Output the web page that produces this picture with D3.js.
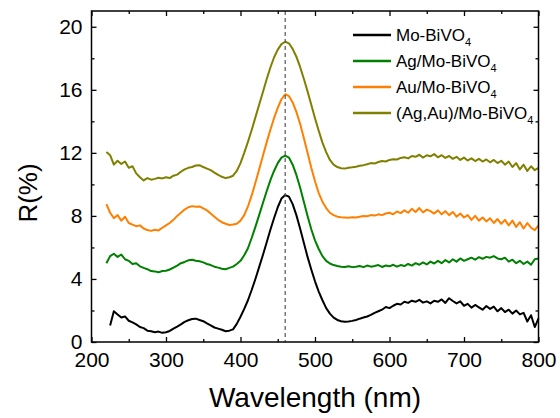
<!DOCTYPE html>
<html>
<head>
<meta charset="utf-8">
<script src="https://cdn.jsdelivr.net/npm/d3@7"></script>
<style>
  body { margin: 0; background: #fff; }
  svg text { font-family: "Liberation Sans", Arial, sans-serif; fill: #000; }
</style>
</head>
<body>
<script>
// wavelength grid (nm)
var wavelengths = [220,225,230,235,240,245,250,255,260,265,270,275,280,285,290,295,300,305,310,315,
  320,325,330,335,340,345,350,355,360,365,370,375,380,385,390,395,400,405,410,415,
  420,425,430,435,440,445,450,455,460,465,470,475,480,485,490,495,500,505,510,515,
  520,525,530,535,540,545,550,555,560,565,570,575,580,585,590,595,600,605,610,615,
  620,625,630,635,640,645,650,655,660,665,670,675,680,685,690,695,700,705,710,715,
  720,725,730,735,740,745,750,755,760,765,770,775,780,785,790,795,800];

var moBiVO4 = [null,1.05,1.95,1.75,1.55,1.62,1.35,1.25,1.12,0.95,0.88,0.72,0.68,0.62,0.66,0.58,0.62,0.70,0.85,0.98,
  1.12,1.28,1.38,1.46,1.48,1.40,1.32,1.18,1.05,0.92,0.85,0.78,0.68,0.72,0.80,1.15,1.60,2.10,2.65,3.30,
  4.00,4.75,5.50,6.30,7.10,7.85,8.55,9.10,9.32,9.22,8.75,8.05,7.20,6.30,5.40,4.60,3.85,3.20,2.65,2.15,
  1.80,1.55,1.40,1.32,1.28,1.30,1.34,1.40,1.48,1.55,1.62,1.72,1.85,1.95,2.05,2.22,2.15,2.30,2.42,2.38,
  2.55,2.48,2.62,2.55,2.68,2.50,2.58,2.45,2.62,2.55,2.70,2.48,2.78,2.60,2.45,2.58,2.30,2.42,2.18,2.35,
  2.20,2.05,2.28,2.10,2.25,1.95,2.15,1.90,2.05,1.80,2.00,1.75,1.85,1.30,1.70,0.95,1.50];

var agMoBiVO4 = [5.00,5.45,5.60,5.40,5.55,5.25,5.15,4.95,5.00,4.80,4.70,4.62,4.50,4.48,4.42,4.50,4.52,4.60,4.72,4.85,
  5.00,5.08,5.18,5.22,5.15,5.12,5.05,4.95,4.88,4.78,4.72,4.65,4.62,4.70,4.78,4.95,5.15,5.50,5.95,6.60,
  7.30,8.05,8.80,9.55,10.25,10.85,11.35,11.70,11.82,11.70,11.25,10.60,9.80,8.90,8.00,7.15,6.45,5.90,5.45,5.15,
  4.98,4.88,4.82,4.78,4.76,4.80,4.75,4.78,4.82,4.75,4.85,4.78,4.82,4.88,4.76,4.85,4.80,4.90,4.78,4.88,
  4.82,4.95,4.85,5.00,4.90,5.05,4.92,5.10,4.98,5.15,5.00,5.20,5.05,5.25,5.10,5.30,5.15,5.25,5.35,5.22,
  5.38,5.28,5.40,5.35,5.45,5.30,5.25,5.35,5.10,5.22,5.00,5.15,4.95,5.10,4.90,5.25,5.30];

var auMoBiVO4 = [8.75,8.20,7.85,8.05,7.70,7.95,7.55,7.45,7.35,7.40,7.20,7.10,7.05,7.12,7.08,7.25,7.40,7.55,7.75,8.00,
  8.20,8.40,8.55,8.62,8.58,8.60,8.48,8.35,8.15,7.95,7.75,7.60,7.50,7.42,7.45,7.50,7.70,8.05,8.60,9.30,
  10.10,10.95,11.80,12.65,13.45,14.20,14.85,15.40,15.72,15.60,15.20,14.60,13.85,12.95,12.00,11.05,10.20,9.45,8.90,8.50,
  8.20,8.05,7.95,7.92,7.90,7.88,7.92,7.90,7.95,8.00,7.98,8.05,8.02,8.10,8.05,8.15,8.20,8.10,8.28,8.18,
  8.35,8.20,8.45,8.25,8.50,8.22,8.40,8.30,8.15,8.35,8.10,8.30,8.05,8.25,7.95,8.15,7.90,8.05,7.75,8.00,
  7.70,7.90,7.65,7.85,7.55,7.80,7.50,7.75,7.40,7.70,7.30,7.60,7.20,7.55,7.25,7.10,7.40];

var agAuMoBiVO4 = [12.05,11.85,11.25,11.50,11.30,11.45,11.05,11.15,10.70,10.45,10.25,10.40,10.30,10.35,10.42,10.38,10.45,10.40,10.55,10.62,
  10.80,10.95,11.05,11.10,11.20,11.22,11.10,11.00,10.90,10.75,10.60,10.48,10.40,10.45,10.55,10.85,11.35,12.00,12.70,13.45,
  14.25,15.05,15.85,16.65,17.40,18.05,18.55,18.90,19.05,18.95,18.60,18.10,17.45,16.70,15.90,15.05,14.20,13.40,12.65,12.05,
  11.55,11.25,11.10,11.02,11.00,11.05,11.08,11.12,11.18,11.22,11.28,11.35,11.32,11.42,11.48,11.45,11.55,11.60,11.58,11.68,
  11.72,11.65,11.80,11.75,11.88,11.70,11.85,11.78,11.92,11.72,11.85,11.68,11.80,11.62,11.75,11.55,11.70,11.52,11.65,11.48,
  11.62,11.45,11.58,11.40,11.55,11.35,11.50,11.25,11.45,11.10,11.35,10.95,11.25,10.85,11.15,10.90,11.05];

var seriesNames = ["Mo-BiVO", "Ag/Mo-BiVO", "Au/Mo-BiVO", "(Ag,Au)/Mo-BiVO"];
var seriesValues = [moBiVO4, agMoBiVO4, auMoBiVO4, agAuMoBiVO4];
var seriesColors = ["#000000", "#008000", "#ff8000", "#808000"];

var xMajor = [200, 300, 400, 500, 600, 700, 800];
var xMinor = [250, 350, 450, 550, 650, 750];
var yMajor = [0, 4, 8, 12, 16, 20];
var yMinor = [2, 6, 10, 14, 18];
var markerWavelength = 460;

var W = 560, H = 418;
var plotL = 91.5, plotR = 538.5, plotT = 11, plotB = 342;

var x = d3.scaleLinear().domain([200, 800]).range([plotL, plotR]);
var y = d3.scaleLinear().domain([0, 21]).range([plotB, plotT]);

var svg = d3.select("body").append("svg")
    .attr("width", W)
    .attr("height", H);

// curves
var line = d3.line()
    .defined(function(d){ return d != null; })
    .x(function(d, i){ return x(wavelengths[i]); })
    .y(function(d){ return y(d); });

var lines = svg.append("g");
seriesValues.forEach(function(vals, k){
  lines.append("path")
    .attr("d", line(vals))
    .attr("fill", "none")
    .attr("stroke", seriesColors[k])
    .attr("stroke-width", 2)
    .attr("stroke-linejoin", "round");
});

// dashed marker at peak
svg.append("line")
  .attr("x1", x(markerWavelength)).attr("x2", x(markerWavelength))
  .attr("y1", plotT).attr("y2", plotB)
  .attr("stroke", "#555")
  .attr("stroke-width", 1.2)
  .attr("stroke-dasharray", "4,3");

// ticks (inward) on all four sides
function ticks(axis, vals, size, transform){
  var g = svg.append("g")
    .attr("transform", transform)
    .call(axis.tickValues(vals).tickSize(-size).tickSizeOuter(0).tickFormat(""));
  g.select(".domain").remove();
  g.selectAll("line").attr("stroke", "#000").attr("stroke-width", 1.3);
}
ticks(d3.axisBottom(x), xMajor, 5, "translate(0," + plotB + ")");
ticks(d3.axisBottom(x), xMinor, 3, "translate(0," + plotB + ")");
ticks(d3.axisTop(x), xMajor, 5, "translate(0," + plotT + ")");
ticks(d3.axisTop(x), xMinor, 3, "translate(0," + plotT + ")");
ticks(d3.axisLeft(y), yMajor, 5, "translate(" + plotL + ",0)");
ticks(d3.axisLeft(y), yMinor, 3, "translate(" + plotL + ",0)");
ticks(d3.axisRight(y), yMajor, 5, "translate(" + plotR + ",0)");
ticks(d3.axisRight(y), yMinor, 3, "translate(" + plotR + ",0)");

// frame
svg.append("rect")
  .attr("x", plotL).attr("y", plotT)
  .attr("width", plotR - plotL).attr("height", plotB - plotT)
  .attr("fill", "none")
  .attr("stroke", "#000")
  .attr("stroke-width", 1.5);

// tick labels
var xl = svg.append("g")
  .attr("transform", "translate(0," + plotB + ")")
  .call(d3.axisBottom(x).tickValues(xMajor).tickSize(0).tickPadding(10));
xl.select(".domain").remove();
xl.selectAll("text").attr("font-size", 21).attr("font-family", "Liberation Sans, Arial, sans-serif");

var yl = svg.append("g")
  .attr("transform", "translate(" + plotL + ",0)")
  .call(d3.axisLeft(y).tickValues(yMajor).tickSize(0).tickPadding(9));
yl.select(".domain").remove();
yl.selectAll("text").attr("font-size", 21).attr("font-family", "Liberation Sans, Arial, sans-serif");

// axis titles
svg.append("text")
  .attr("x", (plotL + plotR) / 2)
  .attr("y", 407)
  .attr("text-anchor", "middle")
  .attr("font-size", 28)
  .text("Wavelength (nm)");

svg.append("text")
  .attr("transform", "translate(37,193) rotate(-90)")
  .attr("text-anchor", "middle")
  .attr("font-size", 26)
  .text("R(%)");

// legend
var legend = svg.append("g").attr("transform", "translate(353,35)");
seriesNames.forEach(function(name, k){
  var row = legend.append("g").attr("transform", "translate(0," + (k * 26) + ")");
  row.append("line")
    .attr("x1", 0).attr("x2", 38)
    .attr("y1", 0).attr("y2", 0)
    .attr("stroke", seriesColors[k])
    .attr("stroke-width", 2.5);
  var t = row.append("text")
    .attr("x", 43)
    .attr("y", 6)
    .attr("font-size", 17);
  t.append("tspan").text(name);
  t.append("tspan").attr("font-size", 11).attr("dy", 5).text("4");
});
</script>
</body>
</html>
